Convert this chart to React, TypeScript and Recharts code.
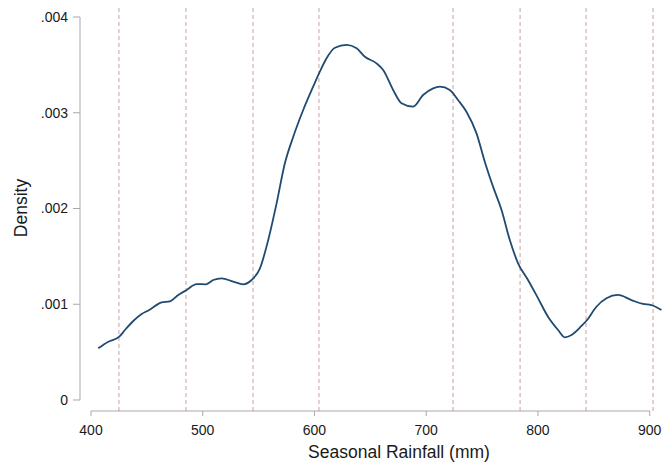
import { LineChart, Line, XAxis, YAxis, ReferenceLine } from "recharts";

// kernel density estimate of seasonal rainfall (mm) -> density
const rainfall = [
  406.5, 415.5, 425.3, 430.4, 437.8, 445.3, 452.1, 463.2, 470.7, 478.1, 485.6, 494.5, 502.9, 509.4,
  516.9, 527.3, 536.2, 543.7, 551.2, 558.6, 566.1, 573.5, 581.0, 589.9, 598.8, 604.8, 610.8, 618.3,
  628.7, 637.7, 645.1, 655.5, 661.5, 670.4, 677.9, 688.3, 697.2, 706.2, 712.2, 721.1, 728.5, 736.0,
  745.0, 752.4, 759.8, 767.4, 774.8, 782.2, 791.1, 800.1, 809.0, 818.0, 824.0, 830.0, 838.9, 843.4,
  852.3, 861.3, 871.6, 883.6, 894.0, 901.5, 910.5,
];
// density in units of 0.001
const density = [
  0.54, 0.609, 0.661, 0.731, 0.825, 0.898, 0.94, 1.02, 1.031, 1.097, 1.149, 1.211, 1.208, 1.253,
  1.271, 1.236, 1.208, 1.253, 1.375, 1.671, 2.054, 2.472, 2.75, 3.029, 3.272, 3.429, 3.569, 3.679,
  3.708, 3.673, 3.585, 3.516, 3.446, 3.238, 3.099, 3.063, 3.185, 3.255, 3.272, 3.238, 3.133, 3.011,
  2.785, 2.489, 2.228, 1.984, 1.671, 1.428, 1.253, 1.062, 0.87, 0.731, 0.655, 0.679, 0.773, 0.828,
  0.974, 1.062, 1.097, 1.044, 1.003, 0.992, 0.94,
];
const cutoffs = [425, 485, 545, 604, 724, 784, 843, 903];
const xTicks = [400, 500, 600, 700, 800, 900];
const yTicks = [0, 0.001, 0.002, 0.003, 0.004];

const data = rainfall.map((r, i) => ({ rain: r, dens: density[i] / 1000 }));

const FONT = "'Liberation Sans', Arial, sans-serif";
const AXIS = "#a9a9a9";
const INK = "#1a1a1a";

const fmtY = (v: number) => (v === 0 ? "0" : v.toFixed(3).replace(/^0/, ""));

const DensityLabel = (props: any) => {
  const vb = props.viewBox || {};
  const cx = vb.x + 21;
  const cy = vb.y + vb.height / 2;
  return (
    <text
      x={cx}
      y={cy}
      transform={`rotate(-90, ${cx}, ${cy})`}
      textAnchor="middle"
      dominantBaseline="central"
      fontSize={17.5}
      fontFamily={FONT}
      fill={INK}
    >
      Density
    </text>
  );
};

const RainLabel = (props: any) => {
  const vb = props.viewBox || {};
  // stata centres the title a bit right of the plot centre
  const cx = vb.x + vb.width / 2 + 28;
  const cy = vb.y + vb.height - 8.5;
  return (
    <text x={cx} y={cy} textAnchor="middle" fontSize={17.5} fontFamily={FONT} fill={INK}>
      Seasonal Rainfall (mm)
    </text>
  );
};

export default function App() {
  return (
    <div style={{ position: "absolute", left: 0, top: 0, background: "#fff" }}>
      <LineChart width={665} height={466} data={data} margin={{ top: 5, right: 3, bottom: 0, left: 0 }}>
        <XAxis
          dataKey="rain"
          type="number"
          domain={[400, 911]}
          ticks={xTicks}
          padding={{ left: 11, right: 0 }}
          height={55}
          tickSize={5}
          tickMargin={9}
          axisLine={{ stroke: AXIS, strokeDasharray: "0 11 559 30" }}
          tickLine={{ stroke: AXIS }}
          tick={{ fontSize: 14, fill: INK, fontFamily: FONT }}
          label={{ value: "Seasonal Rainfall (mm)", content: RainLabel }}
        />
        <YAxis
          type="number"
          domain={[0, 0.004]}
          ticks={yTicks}
          allowDataOverflow
          padding={{ top: 12, bottom: 11 }}
          width={80}
          tickSize={7}
          tickMargin={5}
          tickFormatter={fmtY}
          axisLine={{ stroke: AXIS, strokeDasharray: "0 12 383 20" }}
          tickLine={{ stroke: AXIS }}
          tick={{ fontSize: 14, fill: INK, fontFamily: FONT }}
          label={{ value: "Density", content: DensityLabel }}
        />
        {cutoffs.map((c) => (
          <ReferenceLine
            key={c}
            x={c}
            ifOverflow="visible"
            stroke="#c9a09c"
            strokeWidth={1}
            strokeDasharray="4 3"
          />
        ))}
        <Line
          type="monotone"
          dataKey="dens"
          stroke="#1f4a72"
          strokeWidth={1.8}
          dot={false}
          isAnimationActive={false}
        />
      </LineChart>
    </div>
  );
}
